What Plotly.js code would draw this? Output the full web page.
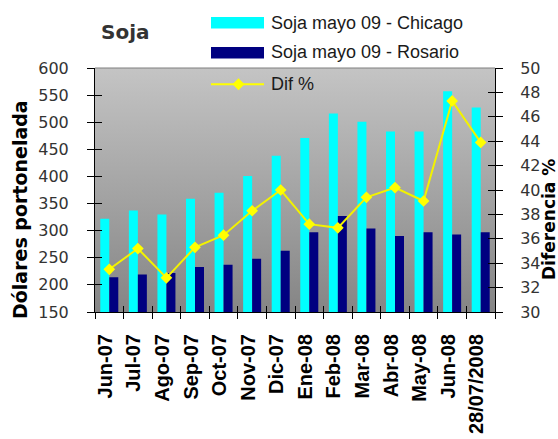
<!DOCTYPE html>
<html>
<head>
<meta charset="utf-8">
<script src="https://cdn.plot.ly/plotly-3.0.1.min.js"></script>
<style>
  html, body { margin: 0; padding: 0; background: #ffffff; }
  #chart { width: 558px; height: 439px; }
</style>
</head>
<body>
<div id="chart"></div>
<script>
// ---- data ----
var months = ['Jun-07','Jul-07','Ago-07','Sep-07','Oct-07','Nov-07','Dic-07','Ene-08','Feb-08','Mar-08','Abr-08','May-08','Jun-08','28/07/2008'];
var chicago = [322, 337, 330, 359, 370, 401, 438, 471, 516, 501, 483, 483, 557, 527];
var rosario = [214, 219, 222, 233, 237, 248, 263, 297, 327, 304, 290, 297, 293, 297];
var dif = [33.5, 35.2, 32.8, 35.3, 36.3, 38.3, 40.0, 37.2, 36.9, 39.4, 40.2, 39.1, 47.3, 43.9];
var seriesNames = ['Soja mayo 09 - Chicago', 'Soja mayo 09 - Rosario', 'Dif %'];
var chartTitle = 'Soja';
var leftTitle = 'Dólares portonelada';
var rightTitle = 'Diferencia %';

// ---- layout helpers (pixel -> paper) ----
var L = 95, R = 63, T = 68, B = 127, W = 558, H = 439;
var PW = W - L - R, PH = H - T - B;
function px(x) { return (x - L) / PW; }
function py(y) { return (H - B - y) / PH; }

var cCyan = '#00FFFF', cNavy = '#000080', cYellow = '#FFFF00';
var xRange = [-0.5, months.length - 0.5];

var traces = [
  { type: 'bar', name: seriesNames[0], x: months, y: chicago, marker: { color: cCyan, line: { width: 0 } }, hoverinfo: 'x+y' },
  { type: 'bar', name: seriesNames[1], x: months, y: rosario, marker: { color: cNavy, line: { width: 0 } }, hoverinfo: 'x+y' },
  { type: 'scatter', name: seriesNames[2], x: months, y: dif, yaxis: 'y2', mode: 'lines+markers',
    line: { color: '#F2F200', width: 2 }, marker: { symbol: 'diamond', size: 9, color: cYellow } },
  // invisible helpers so that the inner tick marks (crossing ticks) are drawn
  { type: 'scatter', x: months, y: chicago, xaxis: 'x2', yaxis: 'y3', mode: 'markers', marker: { opacity: 0 }, hoverinfo: 'skip', showlegend: false },
  { type: 'scatter', x: months, y: dif, xaxis: 'x', yaxis: 'y4', mode: 'markers', marker: { opacity: 0 }, hoverinfo: 'skip', showlegend: false }
];

var gradSvg = "<svg xmlns='http://www.w3.org/2000/svg' width='100' height='100' preserveAspectRatio='none'>" +
  "<defs><linearGradient id='g' x1='0' y1='0' x2='0' y2='1'>" +
  "<stop offset='0' stop-color='#c4c4c4'/><stop offset='1' stop-color='#858585'/></linearGradient></defs>" +
  "<rect width='100' height='100' fill='url(#g)'/></svg>";

var tickFontY = { family: 'DejaVu Sans, Verdana, sans-serif', size: 16, color: '#333333' };
var axCommon = { showgrid: false, zeroline: false, fixedrange: true };

var legendFont = { family: 'Liberation Sans, Arial, sans-serif', size: 18, color: '#1a1a1a' };

var layout = {
  width: W, height: H,
  margin: { l: L, r: R, t: T, b: B, pad: 0 },
  paper_bgcolor: '#ffffff',
  plot_bgcolor: 'rgba(0,0,0,0)',
  showlegend: false,
  barmode: 'group',
  bargap: 0.37,
  bargroupgap: 0,
  title: {
    text: chartTitle, xref: 'container', yref: 'container',
    x: 101 / W, xanchor: 'left', y: 1 - 32 / H, yanchor: 'middle',
    font: { family: 'DejaVu Sans, sans-serif', size: 20, weight: 'bold', color: '#333333' }
  },
  xaxis: Object.assign({}, axCommon, {
    type: 'category', range: xRange, tickson: 'boundaries', ticks: 'outside', ticklen: 6, tickwidth: 1, tickcolor: '#000',
    showline: true, linecolor: '#000', linewidth: 1, tickangle: -90, ticklabelstandoff: 13, ticklabelshift: -4,
    tickfont: { family: 'Liberation Sans, Arial, sans-serif', size: 20, weight: 'bold', color: '#000' }
  }),
  xaxis2: Object.assign({}, axCommon, {
    type: 'category', overlaying: 'x', anchor: 'y', side: 'bottom', tickson: 'boundaries',
    ticks: 'inside', ticklen: 6, tickwidth: 1, tickcolor: '#000', showticklabels: false, showline: false,
    range: xRange
  }),
  yaxis: Object.assign({}, axCommon, {
    range: [150, 600], dtick: 50, tick0: 0, ticks: 'outside', ticklen: 7, tickwidth: 1, tickcolor: '#000',
    showline: true, linecolor: '#000', linewidth: 1, tickfont: tickFontY, ticklabelstandoff: 15
  }),
  yaxis2: Object.assign({}, axCommon, {
    overlaying: 'y', side: 'right', range: [30, 50], dtick: 2, tick0: 0, ticks: 'outside', ticklen: 7,
    tickwidth: 1, tickcolor: '#000', showline: true, linecolor: '#000', linewidth: 1, tickfont: tickFontY,
    ticklabelstandoff: 14
  }),
  yaxis3: Object.assign({}, axCommon, {
    overlaying: 'y', side: 'left', range: [150, 600], dtick: 50, tick0: 0, ticks: 'inside', ticklen: 7,
    tickwidth: 1, tickcolor: '#000', showticklabels: false, showline: false
  }),
  yaxis4: Object.assign({}, axCommon, {
    overlaying: 'y', side: 'right', range: [30, 50], dtick: 2, tick0: 0, ticks: 'inside', ticklen: 7,
    tickwidth: 1, tickcolor: '#000', showticklabels: false, showline: false
  }),
  images: [{
    source: 'data:image/svg+xml;charset=utf-8,' + encodeURIComponent(gradSvg),
    xref: 'paper', yref: 'paper', x: 0, y: 1, sizex: 1, sizey: 1,
    xanchor: 'left', yanchor: 'top', sizing: 'stretch', layer: 'below'
  }],
  shapes: [
    { type: 'line', xref: 'paper', yref: 'paper', x0: 0, x1: 1, y0: 1, y1: 1, line: { color: '#7f7f7f', width: 1 } },
    // custom legend swatches
    { type: 'rect', xref: 'paper', yref: 'paper', x0: px(211), x1: px(264), y0: py(28.5), y1: py(17), fillcolor: cCyan, line: { width: 0 } },
    { type: 'rect', xref: 'paper', yref: 'paper', x0: px(211), x1: px(264), y0: py(58.5), y1: py(47), fillcolor: cNavy, line: { width: 0 } },
    { type: 'line', xref: 'paper', yref: 'paper', x0: px(211), x1: px(264), y0: py(84.3), y1: py(84.3), line: { color: cYellow, width: 2 } },
    { type: 'path', xref: 'paper', yref: 'paper', xsizemode: 'pixel', ysizemode: 'pixel',
      xanchor: px(238.5), yanchor: py(84.3), path: 'M -6 0 L 0 6 L 6 0 L 0 -6 Z', fillcolor: cYellow, line: { width: 0 } }
  ],
  annotations: [
    { text: seriesNames[0], xref: 'paper', yref: 'paper', x: px(269), y: py(22.5), xanchor: 'left', yanchor: 'middle', showarrow: false, font: legendFont },
    { text: seriesNames[1], xref: 'paper', yref: 'paper', x: px(269), y: py(52.5), xanchor: 'left', yanchor: 'middle', showarrow: false, font: legendFont },
    { text: seriesNames[2], xref: 'paper', yref: 'paper', x: px(269), y: py(84.3), xanchor: 'left', yanchor: 'middle', showarrow: false, font: legendFont },
    { text: leftTitle, xref: 'paper', yref: 'paper', x: px(20), y: py(210), xanchor: 'center', yanchor: 'middle', textangle: -90, showarrow: false,
      font: { family: 'DejaVu Sans, sans-serif', size: 19, weight: 'bold', color: '#000' } },
    { text: rightTitle, xref: 'paper', yref: 'paper', x: px(549), y: py(220), xanchor: 'center', yanchor: 'middle', textangle: -90, showarrow: false,
      font: { family: 'DejaVu Sans, sans-serif', size: 17, weight: 'bold', color: '#000' } }
  ]
};

Plotly.newPlot('chart', traces, layout, { displayModeBar: false, staticPlot: true });
</script>
</body>
</html>
